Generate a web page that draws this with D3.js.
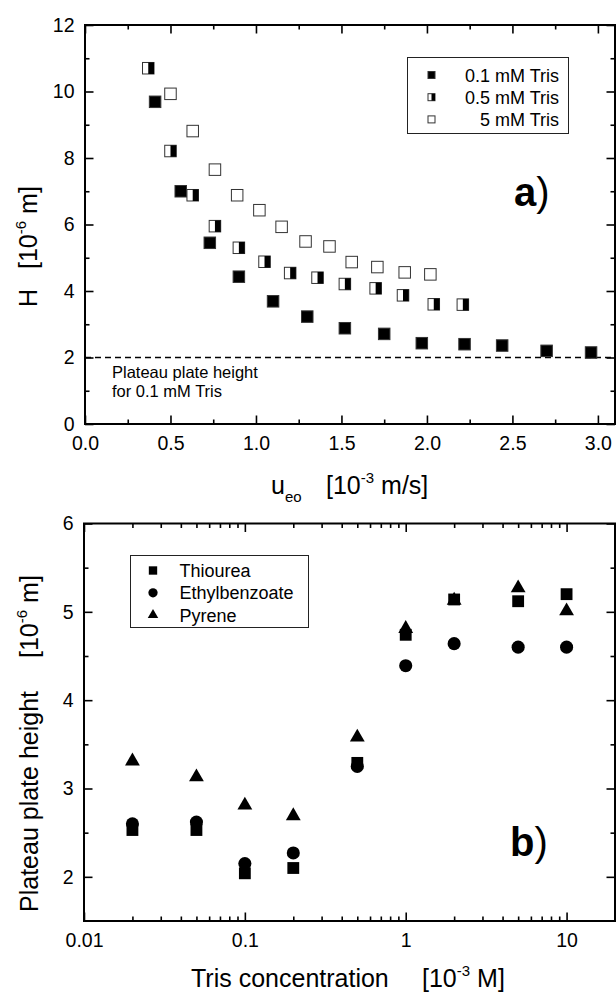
<!DOCTYPE html>
<html>
<head>
<meta charset="utf-8">
<script src="https://cdn.jsdelivr.net/npm/d3@7"></script>
<style>
  body { margin: 0; background: #fff; }
  text { font-family: "Liberation Sans", Arial, sans-serif; fill: #000; }
</style>
</head>
<body>
<div id="chart"></div>
<script>
// ---- panel a) plate height H vs electroosmotic velocity ----
var ueoLow  = [0.41, 0.56, 0.73, 0.90, 1.10, 1.30, 1.52, 1.75, 1.97, 2.22, 2.44, 2.70, 2.96];
var hLow    = [9.69, 7.00, 5.45, 4.43, 3.69, 3.23, 2.88, 2.71, 2.43, 2.40, 2.36, 2.20, 2.15];
var ueoMid  = [0.37, 0.50, 0.63, 0.76, 0.90, 1.05, 1.20, 1.36, 1.52, 1.70, 1.86, 2.04, 2.21];
var hMid    = [10.7, 8.21, 6.88, 5.95, 5.30, 4.88, 4.54, 4.40, 4.21, 4.08, 3.87, 3.60, 3.59];
var ueoHigh = [0.50, 0.63, 0.76, 0.89, 1.02, 1.15, 1.29, 1.43, 1.56, 1.71, 1.87, 2.02];
var hHigh   = [9.93, 8.81, 7.65, 6.88, 6.43, 5.93, 5.49, 5.34, 4.87, 4.72, 4.56, 4.50];
var seriesA = ["0.1 mM Tris", "0.5 mM Tris", "5 mM Tris"];
var plateauLow = 2;
var xTicksA = [0, 0.5, 1.0, 1.5, 2.0, 2.5, 3.0];
var xMinorA = [0.25, 0.75, 1.25, 1.75, 2.25, 2.75];
var yTicksA = [0, 2, 4, 6, 8, 10, 12];
var yMinorA = [1, 3, 5, 7, 9, 11];

// ---- panel b) plateau plate height vs Tris concentration ----
var trisConc      = [0.02, 0.05, 0.1, 0.2, 0.5, 1, 2, 5, 10];
var thiourea      = [2.53, 2.53, 2.04, 2.10, 3.29, 4.74, 5.14, 5.12, 5.20];
var ethylbenzoate = [2.60, 2.62, 2.15, 2.27, 3.25, 4.39, 4.64, 4.60, 4.60];
var pyrene        = [3.31, 3.13, 2.81, 2.69, 3.58, 4.81, 5.13, 5.27, 5.01];
var seriesB = ["Thiourea", "Ethylbenzoate", "Pyrene"];
var xTicksB = [0.01, 0.1, 1, 10];
var yTicksB = [2, 3, 4, 5, 6];
var yMinorB = [2.5, 3.5, 4.5, 5.5];

var W = 616, H = 994;
var svg = d3.select("#chart").append("svg")
    .attr("width", W).attr("height", H);

var boxA = {left: 85, right: 615, top: 25, bottom: 424};
var boxB = {left: 84, right: 615, top: 523.5, bottom: 921};

// framed panel with inward ticks on all four sides
function frame(x, y, box, xMaj, xMin, yMaj, yMin, xFmt, yFmt) {
  var g = svg.append("g");
  function ax(gen, tx, ty, vals, size, fmt) {
    var a = g.append("g")
      .attr("transform", "translate(" + tx + "," + ty + ")")
      .call(gen.tickValues(vals).tickSize(-size).tickSizeOuter(0).tickPadding(12)
        .tickFormat(fmt || ""));
    a.select(".domain").remove();
    a.selectAll(".tick line").attr("stroke", "#000").attr("stroke-width", 1.6);
    a.selectAll("text").attr("font-family", "Liberation Sans, Arial, sans-serif")
      .attr("font-size", 19.5).attr("fill", "#000");
    return a;
  }
  ax(d3.axisBottom(x), 0, box.bottom, xMaj, 8.5, xFmt);
  ax(d3.axisBottom(x), 0, box.bottom, xMin, 4.5);
  ax(d3.axisTop(x), 0, box.top, xMaj, 8.5);
  ax(d3.axisTop(x), 0, box.top, xMin, 4.5);
  var yl = ax(d3.axisLeft(y), box.left, 0, yMaj, 8.5, yFmt);
  yl.selectAll("text").attr("x", -10.5);
  ax(d3.axisLeft(y), box.left, 0, yMin, 4.5);
  ax(d3.axisRight(y), box.right, 0, yMaj, 8.5);
  ax(d3.axisRight(y), box.right, 0, yMin, 4.5);
  g.append("rect")
    .attr("x", box.left).attr("y", box.top)
    .attr("width", box.right - box.left).attr("height", box.bottom - box.top)
    .attr("fill", "none").attr("stroke", "#000").attr("stroke-width", 2);
}

// ================= panel a =================
var xA = d3.scaleLinear().domain([0, 3.1]).range([boxA.left, boxA.right]);
var yA = d3.scaleLinear().domain([0, 12]).range([boxA.bottom, boxA.top]);
frame(xA, yA, boxA, xTicksA, xMinorA, yTicksA, yMinorA, d3.format(".1f"), d3.format("d"));

// plateau line
svg.append("line")
  .attr("x1", xA(0)).attr("x2", boxA.right)
  .attr("y1", yA(plateauLow)).attr("y2", yA(plateauLow))
  .attr("stroke", "#000").attr("stroke-width", 1.4).attr("stroke-dasharray", "6,4");

svg.append("text").attr("x", 112).attr("y", 378).attr("font-size", 16.5).text("Plateau plate height");
svg.append("text").attr("x", 112).attr("y", 397).attr("font-size", 16.5).text("for 0.1 mM Tris");

// square marker: "full", "half" (right half black) or "open"
function square(g, cx, cy, s, kind) {
  g.append("rect").attr("x", cx - s / 2).attr("y", cy - s / 2)
    .attr("width", s).attr("height", s)
    .attr("fill", kind === "full" ? "#000" : "#fff")
    .attr("stroke", "#333").attr("stroke-width", 1);
  if (kind === "half")
    g.append("rect").attr("x", cx).attr("y", cy - s / 2)
      .attr("width", s / 2).attr("height", s).attr("fill", "#000");
}

var kinds = ["full", "half", "open"];
var dataA = [
  d3.zip(ueoLow, hLow),
  d3.zip(ueoMid, hMid),
  d3.zip(ueoHigh, hHigh)
];
var gA = svg.append("g");
dataA.forEach(function(pts, i) {
  pts.forEach(function(p) { square(gA, xA(p[0]), yA(p[1]), 11.5, kinds[i]); });
});

// legend a
var legA = svg.append("g");
legA.append("rect").attr("x", 407.5).attr("y", 57.5).attr("width", 161).attr("height", 76)
  .attr("fill", "#fff").attr("stroke", "#222").attr("stroke-width", 1);
seriesA.forEach(function(name, i) {
  var cy = 75 + i * 22.2;
  square(legA, 431.5, cy, 7, kinds[i]);
  legA.append("text").attr("x", 559).attr("y", cy + 6.5).attr("text-anchor", "end")
    .attr("font-size", 18).text(name);
});

svg.append("text").attr("x", 514).attr("y", 206).attr("font-size", 40)
  .call(function(t) {
    t.append("tspan").attr("font-weight", "bold").text("a");
    t.append("tspan").text(")");
  });

// axis titles a
svg.append("text").attr("x", 271).attr("y", 494).attr("font-size", 25)
  .call(function(t) {
    t.append("tspan").text("u");
    t.append("tspan").attr("dy", 8).attr("font-size", 15).text("eo");
    t.append("tspan").attr("x", 326).attr("dy", -8).text("[10");
    t.append("tspan").attr("dy", -11).attr("font-size", 15).text("-3");
    t.append("tspan").attr("dy", 11).text("\u00a0m/s]");
  });

svg.append("text").attr("transform", "translate(37,307) rotate(-90)").attr("font-size", 25)
  .call(function(t) {
    t.append("tspan").text("H");
    t.append("tspan").attr("x", 38).text("[10");
    t.append("tspan").attr("dy", -11).attr("font-size", 15).text("-6");
    t.append("tspan").attr("dy", 11).text("\u00a0m]");
  });

// ================= panel b =================
var xB = d3.scaleLog().domain([0.01, 20]).range([boxB.left, boxB.right]);
var yB = d3.scaleLinear().domain([1.5, 6]).range([boxB.bottom, boxB.top]);
var xMinorB = xB.ticks().filter(function(v) { return xTicksB.indexOf(v) < 0; });
frame(xB, yB, boxB, xTicksB, xMinorB, yTicksB, yMinorB, function(d) { return String(d); }, d3.format("d"));

var symB = [d3.symbolSquare, d3.symbolCircle, d3.symbolTriangle];
var sizeB = [140, 135, 95];
var dataB = [thiourea, ethylbenzoate, pyrene];
var gB = svg.append("g");
dataB.forEach(function(vals, i) {
  gB.selectAll(null).data(d3.zip(trisConc, vals)).enter().append("path")
    .attr("d", d3.symbol().type(symB[i]).size(sizeB[i]))
    .attr("transform", function(d) { return "translate(" + xB(d[0]) + "," + yB(d[1]) + ")"; })
    .attr("fill", "#000");
});

var legB = svg.append("g");
legB.append("rect").attr("x", 130.5).attr("y", 555.5).attr("width", 178).attr("height", 72)
  .attr("fill", "#fff").attr("stroke", "#222").attr("stroke-width", 1);
seriesB.forEach(function(name, i) {
  var cy = 570.5 + i * 22.3;
  legB.append("path").attr("d", d3.symbol().type(symB[i]).size(sizeB[i] * 0.5))
    .attr("transform", "translate(153," + cy + ")").attr("fill", "#000");
  legB.append("text").attr("x", 179.5).attr("y", cy + 6.5).attr("font-size", 18).text(name);
});

svg.append("text").attr("x", 510).attr("y", 856).attr("font-size", 40)
  .call(function(t) {
    t.append("tspan").attr("font-weight", "bold").text("b");
    t.append("tspan").text(")");
  });

svg.append("text").attr("x", 191).attr("y", 987).attr("font-size", 25)
  .call(function(t) {
    t.append("tspan").text("Tris concentration");
    t.append("tspan").attr("x", 422).text("[10");
    t.append("tspan").attr("dy", -11).attr("font-size", 15).text("-3");
    t.append("tspan").attr("dy", 11).text("\u00a0M]");
  });

svg.append("text").attr("transform", "translate(38,912) rotate(-90)").attr("font-size", 25)
  .call(function(t) {
    t.append("tspan").text("Plateau plate height");
    t.append("tspan").attr("x", 254).text("[10");
    t.append("tspan").attr("dy", -11).attr("font-size", 15).text("-6");
    t.append("tspan").attr("dy", 11).text("\u00a0m]");
  });
</script>
</body>
</html>
